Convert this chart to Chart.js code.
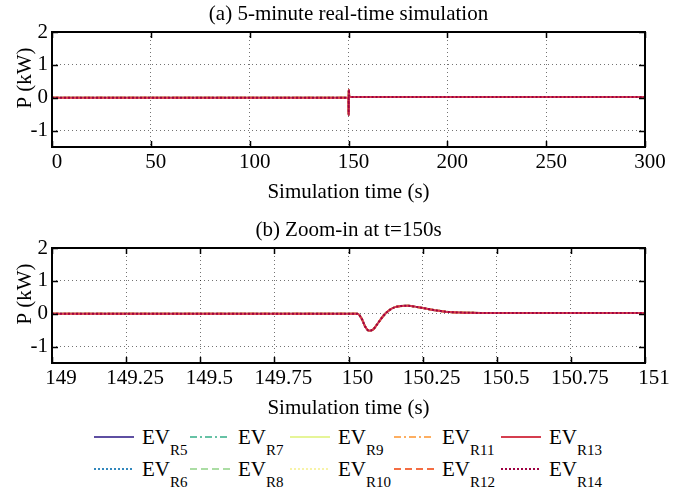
<!DOCTYPE html>
<html>
<head>
    <title>EV power - real-time simulation</title>
    <style>
        body {
            margin: 0;
            background: #fff;
            font-family: 'Liberation Serif', 'Times New Roman', serif;
            color: #000;
        }
        #wrap {
            position: relative;
            width: 693px;
            height: 495px;
        }
        canvas {
            position: absolute;
            left: 0;
        }
        .entry {
            position: absolute;
            white-space: nowrap;
        }
        .entry svg {
            position: absolute;
            left: 0;
            top: -3px;
        }
        .entry span.lbl {
            position: absolute;
            left: 48px;
            top: -10px;
            font-size: 21px;
            line-height: 21px;
        }
        .entry span.sub {
            font-size: 15px;
            position: relative;
            top: 11px;
        }
    </style>
    <script src="https://cdn.jsdelivr.net/npm/chart.js"></script>
</head>
<body>
<div id="wrap">
    <canvas id="fullChart" width="693" height="203" style="top:0px;"></canvas>
    <canvas id="zoomChart" width="693" height="203" style="top:216px;"></canvas>
    <div id="legend"></div>
</div>

<script>
    // transient around the set-point change at t = 150 s
    const zoomTime  = [149, 150.00, 150.03, 150.045, 150.056, 150.07, 150.084, 150.10, 150.117, 150.134, 150.157, 150.20, 150.24, 150.297, 150.34, 150.40, 150.50, 151];
    const zoomPower = [0,   0,      0,      -0.16,   -0.39,   -0.52,  -0.47,   -0.28,  -0.07,   0.08,    0.20,    0.24,   0.19,   0.10,    0.05,   0.03,   0.02,   0.02];

    // full 5-minute run: flat before and after the transient
    const fullStart = [0, 0];
    const fullEnd = [300, 0.02];

    const yTicks = [-1, 0, 1, 2];
    const fullTicks = [0, 50, 100, 150, 200, 250, 300];
    const zoomTicks = [149, 149.25, 149.5, 149.75, 150, 150.25, 150.5, 150.75, 151];

    const seriesNames = ['R5', 'R6', 'R7', 'R8', 'R9', 'R10', 'R11', 'R12', 'R13', 'R14'];
    const seriesColors = ['#5e4fa2', '#3288bd', '#66c2a5', '#abdda4', '#e6f598', '#f7f3a8', '#fdae61', '#f46d43', '#d53e4f', '#9e0142'];
    const seriesDash = [[], [2, 2], [7, 3, 2, 3], [7, 4], [], [2, 2], [7, 3, 2, 3], [7, 4], [], [2, 2]];

    const FONT = "'Liberation Serif', 'Times New Roman', serif";
    Chart.defaults.font.family = FONT;
    Chart.defaults.color = '#000';

    function framePlugin(title, ylabel) {
        return {
            id: 'frame',
            afterDatasetsDraw(chart) {
                const ctx = chart.ctx;
                const a = chart.chartArea;
                const xs = chart.scales.x, ys = chart.scales.y;
                ctx.save();
                ctx.strokeStyle = '#000';
                ctx.lineWidth = 1.5;
                ctx.beginPath();
                xs.ticks.forEach(t => {
                    const px = Math.round(xs.getPixelForValue(t.value)) + 0.5;
                    ctx.moveTo(px, a.bottom); ctx.lineTo(px, a.bottom - 6);
                    ctx.moveTo(px, a.top); ctx.lineTo(px, a.top + 6);
                });
                ys.ticks.forEach(t => {
                    const py = Math.round(ys.getPixelForValue(t.value)) + 0.5;
                    ctx.moveTo(a.left, py); ctx.lineTo(a.left + 6, py);
                    ctx.moveTo(a.right, py); ctx.lineTo(a.right - 6, py);
                });
                ctx.stroke();
                ctx.lineWidth = 2;
                ctx.strokeRect(a.left, a.top, a.right - a.left, a.bottom - a.top);

                ctx.fillStyle = '#000';
                ctx.font = '21px ' + FONT;
                ctx.textAlign = 'center';
                ctx.textBaseline = 'middle';
                ctx.fillText(title, (a.left + a.right) / 2, 14);

                ctx.translate(25, 78);
                ctx.rotate(-Math.PI / 2);
                ctx.fillText(ylabel, 0, 0);
                ctx.restore();
            }
        };
    }

    function makeChart(canvasId, time, power, xTicks, labelOffset, title) {
        const pts = time.map((t, i) => ({x: t, y: power[i]}));
        const datasets = seriesNames.map((name, i) => ({
            label: 'EV ' + name,
            data: pts,
            borderColor: seriesColors[i],
            borderDash: seriesDash[i],
            borderWidth: 2,
            pointRadius: 0,
            cubicInterpolationMode: 'monotone',
            fill: false,
            order: seriesNames.length - i   // later series drawn on top, like the original
        }));

        return new Chart(document.getElementById(canvasId), {
            type: 'line',
            data: { datasets: datasets },
            options: {
                responsive: false,
                animation: false,
                devicePixelRatio: 1,
                layout: { padding: { top: 32, right: 48, left: 0, bottom: 0 } },
                plugins: {
                    legend: { display: false },
                    tooltip: { enabled: false },
                    title: { display: false }
                },
                scales: {
                    x: {
                        type: 'linear',
                        min: xTicks[0],
                        max: xTicks[xTicks.length - 1],
                        afterFit: s => { s.height = 56; },
                        afterBuildTicks: s => { s.ticks = xTicks.map(v => ({value: v})); },
                        ticks: {
                            padding: 4.5,
                            labelOffset: labelOffset,
                            maxRotation: 0,
                            autoSkip: false,
                            font: { size: 21, lineHeight: 1 },
                            callback: v => String(v)
                        },
                        grid: { color: 'rgba(0,0,0,0.55)', lineWidth: 1, drawTicks: false },
                        border: { display: false, dash: [1, 3] },
                        title: {
                            display: true,
                            text: 'Simulation time (s)',
                            font: { size: 21, lineHeight: 1 },
                            padding: 0
                        }
                    },
                    y: {
                        min: -1.5,
                        max: 2,
                        afterFit: s => { s.width = 52; },
                        afterBuildTicks: s => { s.ticks = yTicks.map(v => ({value: v})); },
                        ticks: {
                            padding: 4,
                            font: { size: 21, lineHeight: 1 },
                            callback: v => String(v)
                        },
                        grid: { color: 'rgba(0,0,0,0.55)', lineWidth: 1, drawTicks: false },
                        border: { display: false, dash: [1, 3] }
                    }
                }
            },
            plugins: [framePlugin(title, 'P (kW)')]
        });
    }

    const fullTime = [fullStart[0]].concat(zoomTime, [fullEnd[0]]);
    const fullPower = [fullStart[1]].concat(zoomPower, [fullEnd[1]]);

    makeChart('fullChart', fullTime, fullPower, fullTicks, 5, '(a) 5-minute real-time simulation');
    makeChart('zoomChart', zoomTime, zoomPower, zoomTicks, 9, '(b) Zoom-in at t=150s');

    // legend with subscripts, laid out like the original (2 rows x 5 columns)
    const colX = [94, 190, 290, 394, 501];
    const rowY = [437, 469];
    const legend = document.getElementById('legend');
    seriesNames.forEach((name, i) => {
        const col = Math.floor(i / 2), row = i % 2;
        const div = document.createElement('div');
        div.className = 'entry';
        div.style.left = colX[col] + 'px';
        div.style.top = rowY[row] + 'px';
        const dash = seriesDash[i].length ? seriesDash[i].join(' ') : 'none';
        div.innerHTML =
            '<svg width="40" height="6"><line x1="0" y1="3" x2="40" y2="3" stroke="' + seriesColors[i] +
            '" stroke-width="2" stroke-dasharray="' + dash + '"/></svg>' +
            '<span class="lbl">EV<span class="sub">' + name + '</span></span>';
        legend.appendChild(div);
    });
</script>
</body>
</html>
